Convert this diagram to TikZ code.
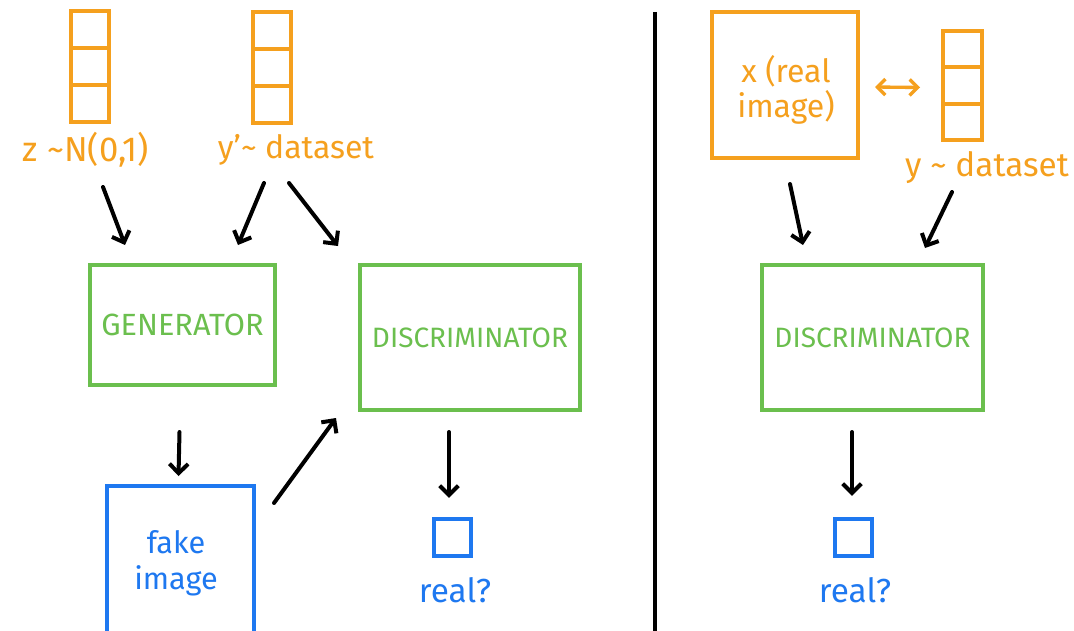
\documentclass[tikz,border=0pt]{standalone}
\usepackage{fontspec}
\setmainfont{Fira Sans}
\usetikzlibrary{arrows.meta,calc}
\definecolor{gorange}{HTML}{F5A01E}
\definecolor{ggreen}{HTML}{6BBF4E}
\definecolor{gblue}{HTML}{1E78F0}
\begin{document}
\begin{tikzpicture}[x=0.75pt,y=-0.75pt,
  arr/.style={line width=3pt,line cap=round,-{Straight Barb[length=7pt,width=14pt,line width=3pt]}},
  darr/.style={line width=2.5pt,line cap=round,{Straight Barb[length=6pt,width=12pt,line width=2.5pt]}-{Straight Barb[length=6pt,width=12pt,line width=2.5pt]},gorange},
  vecbox/.style={draw=gorange,line width=3pt,inner sep=0pt,minimum width=29pt,minimum height=83pt,
    path picture={
      \draw[gorange,line width=3pt]
        ($(path picture bounding box.north west)!1/3!(path picture bounding box.south west)$) --
        ($(path picture bounding box.north east)!1/3!(path picture bounding box.south east)$)
        ($(path picture bounding box.north west)!2/3!(path picture bounding box.south west)$) --
        ($(path picture bounding box.north east)!2/3!(path picture bounding box.south east)$);}},
  olabel/.style={text=gorange,font=\fontsize{24}{26}\selectfont,inner sep=0pt},
  gbox/.style={draw=ggreen,line width=3pt,inner sep=0pt,text=ggreen},
  bbox/.style={draw=gblue,line width=3pt,inner sep=0pt},
  blabel/.style={text=gblue,font=\fontsize{23}{25}\selectfont,inner sep=0pt,align=center}
]
\useasboundingbox[fill=white] (0,0) rectangle (1074,631);

% left side
\node[vecbox] (vec1) at (90,66.5) {};
\node[vecbox] (vec2) at (272,67.5) {};
\node[olabel,font=\fontsize{26}{28}\selectfont] (zlab) at (86,150) {z \textasciitilde N(0,1)};
\node[olabel] (ylab) at (296,150) {y'\textasciitilde{} dataset};

\node[gbox,minimum width=138.75pt,minimum height=90pt,font=\fontsize{23}{25}\selectfont] (gen) at (182.5,325) {GENERATOR};
\node[gbox,minimum width=165pt,minimum height=108.75pt,font=\fontsize{21}{23}\selectfont] (disc1) at (470,337.5) {DISCRIMINATOR};
\node[bbox,minimum width=110.25pt,minimum height=115.5pt] (fake) at (180.5,563) {};
\node[blabel] (fakelab) at (176,563) {fake\\[2pt]image};
\node[bbox,minimum width=28pt,minimum height=28pt] (out1) at (452.5,537.5) {};
\node[blabel,font=\fontsize{25}{27}\selectfont] (real1) at (455,590) {real?};

\draw[arr] ($(zlab.center)+(17,37)$) -- ($(gen.north west)+(37,-18)$);
\draw[arr] ($(ylab.center)+(-32,33)$) -- ($(gen.north west)+(150,-18)$);
\draw[arr] ($(ylab.center)+(-7,33)$) -- ($(disc1.north west)+(-20,-17)$);
\draw[arr] ($(gen.south)+(-3,45)$) -- ($(fake.north)+(-2,-8)$);
\draw[arr] ($(fake.north east)+(18,19)$) -- ($(disc1.south west)+(-22,6)$);
\draw[arr] ($(disc1.south)+(-21,20)$) -- ($(out1.north)+(-3.5,-19)$);

% divider
\coordinate (dtop) at (655,12);
\coordinate (dbot) at (655,640);
\draw[line width=3.5pt] (dtop) -- (dbot);

% right side
\node[draw=gorange,line width=3pt,minimum width=109.5pt,minimum height=109.5pt,inner sep=0pt] (realimg) at (785,85) {};
\node[olabel,align=center] (xlab) at (786,90) {x (real\\[0pt]image)};
\node[vecbox,minimum width=29.25pt,minimum height=81.75pt] (vec3) at (962.5,85.5) {};
\node[olabel,font=\fontsize{25}{27}\selectfont] (ylab2) at (987,168) {y \textasciitilde{} dataset};
\node[gbox,minimum width=165.75pt,minimum height=108.75pt,font=\fontsize{21}{23}\selectfont] (disc2) at (872.5,337.5) {DISCRIMINATOR};
\node[bbox,minimum width=28pt,minimum height=28pt] (out2) at (853.5,537.5) {};
\node[blabel,font=\fontsize{25}{27}\selectfont] (real2) at (855,590) {real?};

\draw[darr] ($(realimg.east)+(15,2)$) -- ($(vec3.west)+(-21,2)$);
\draw[arr] ($(realimg.south)+(5,24)$) -- ($(disc2.north west)+(43,-18)$);
\draw[arr] ($(ylab2.center)+(-35,24)$) -- ($(disc2.north west)+(165,-15)$);
\draw[arr] ($(disc2.south)+(-20.5,20)$) -- ($(out2.north)+(-1.5,-21)$);
\end{tikzpicture}
\end{document}
